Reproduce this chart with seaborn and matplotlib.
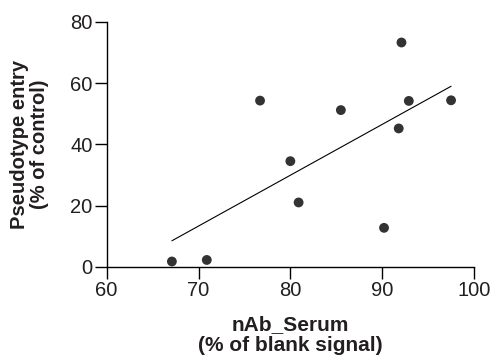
import matplotlib
matplotlib.use("Agg")
import matplotlib.pyplot as plt
import seaborn as sns
import pandas as pd

nab_serum = [67.1, 70.9, 76.7, 80.0, 80.9, 85.5, 90.2, 91.8, 92.1, 92.9, 97.5]
pseudotype_entry = [1.7, 2.2, 54.3, 34.5, 21.0, 51.2, 12.7, 45.2, 73.3, 54.2, 54.4]
x_ticks = [60, 70, 80, 90, 100]
y_ticks = [0, 20, 40, 60, 80]

sns.set_theme(style="ticks")
plt.rcParams['font.family'] = ['Liberation Sans', 'DejaVu Sans']
txt = "#231f20"

df = pd.DataFrame({"x": nab_serum, "y": pseudotype_entry})

fig = plt.figure(figsize=(4.93, 3.60), dpi=100)
ax = fig.add_axes([0.2164, 0.2592, 0.7451, 0.6797])

sns.regplot(data=df, x="x", y="y", ci=None, ax=ax, truncate=True,
            scatter_kws=dict(s=50, color="black", edgecolor="none", zorder=3),
            line_kws=dict(color="black", lw=0.8))

ax.set_xlim(60, 100)
ax.set_ylim(0, 80)
ax.set_xticks(x_ticks)
ax.set_yticks(y_ticks)
ax.set_xticklabels([str(v) for v in x_ticks])
ax.set_yticklabels([str(v) for v in y_ticks])
for s in ["top", "right"]:
    ax.spines[s].set_visible(False)
for s in ["left", "bottom"]:
    ax.spines[s].set_color("black")
    ax.spines[s].set_linewidth(1.0)
ax.tick_params(axis="both", direction="out", length=8.6, width=1.0, color="black",
               labelsize=14.5, labelcolor=txt, pad=1.5)
ax.set_xlabel("nAb_Serum\n(% of blank signal)", fontsize=15, fontweight="bold",
              color=txt, linespacing=1.1)
ax.set_ylabel("Pseudotype entry\n(% of control)", fontsize=14.5, fontweight="bold",
              color=txt, linespacing=1.05)
ax.xaxis.label.set_va("center")
ax.xaxis.label.set_ha("center")
ax.yaxis.label.set_va("center")
ax.yaxis.label.set_ha("center")
ax.xaxis.set_label_coords(0.5, -0.28)
ax.yaxis.set_label_coords(-0.21, 0.5)
ax.set_facecolor("white")
fig.patch.set_facecolor("white")

fig.savefig("out.png", dpi=100)
